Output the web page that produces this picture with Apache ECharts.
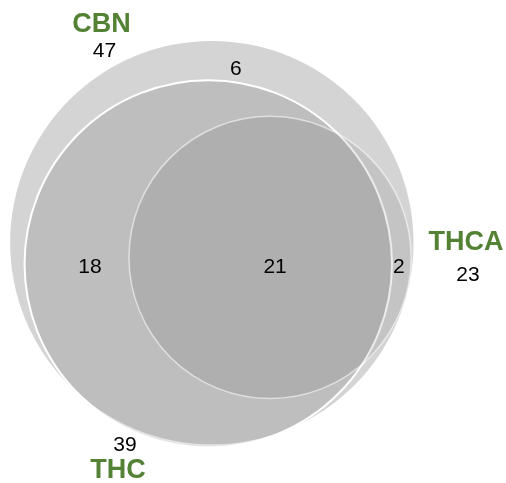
<!DOCTYPE html>
<html>
<head>
<meta charset="utf-8">
<script src="https://cdn.jsdelivr.net/npm/echarts@6/dist/echarts.min.js"></script>
<style>
  html, body { margin: 0; padding: 0; background: #fff; }
  #venn { width: 506px; height: 483px; }
</style>
</head>
<body>
<div id="venn"></div>
<script>
// set totals
const setNames = ["CBN", "THC", "THCA"];
const setSizes = [47, 39, 23];
// counts inside the overlap regions
const regionNames = ["CBN only", "CBN & THC", "CBN & THC & THCA", "CBN & THCA"];
const regionCounts = [6, 18, 21, 2];

// layout in axis units (radius = sqrt(size))
const circleCenters = [[0, 0], [-0.12, -0.72], [1.98, -0.5]];
const setLabelSpots = [[-3.75, 7.39], [-3.19, -7.75], [8.64, 0]];
const totalSpots = [[-3.65, 6.49], [-2.95, -6.87], [8.71, -1.1]];
const regionSpots = [[0.82, 5.9], [-4.14, -0.82], [2.15, -0.82], [6.36, -0.82]];

const circleStyles = [
  { fill: "#d4d4d4", stroke: null, lineWidth: 0 },
  { fill: "rgba(0,0,0,0.1)", stroke: "#ffffff", lineWidth: 2 },
  { fill: "rgba(0,0,0,0.075)", stroke: "rgba(255,255,255,0.55)", lineWidth: 1.5 },
];

let chartDom = document.getElementById("venn");
let myChart = echarts.init(chartDom);

let option = {
  animation: false,
  grid: { left: 0, right: 0, top: 0, bottom: 0 },
  xAxis: { type: "value", min: -7.2, max: 10.0, show: false },
  yAxis: { type: "value", min: -8.16, max: 8.24, show: false },
  series: [
    {
      type: "custom",
      silent: true,
      data: setNames.map((n, i) => [circleCenters[i][0], circleCenters[i][1], Math.sqrt(setSizes[i])]),
      renderItem: function (params, api) {
        const c = api.coord([api.value(0), api.value(1)]);
        const r = api.size([api.value(2), 0])[0];
        const st = circleStyles[params.dataIndex];
        return {
          type: "circle",
          shape: { cx: c[0], cy: c[1], r: r },
          style: { fill: st.fill, stroke: st.stroke, lineWidth: st.lineWidth },
        };
      },
    },
    {
      type: "scatter",
      symbolSize: 0,
      silent: true,
      itemStyle: { opacity: 1 },
      data: setNames.map((n, i) => ({ value: setLabelSpots[i], name: n })),
      label: {
        show: true,
        position: "inside",
        formatter: "{b}",
        color: "#548235",
        opacity: 1,
        fontFamily: "Liberation Sans",
        fontWeight: "bold",
        fontSize: 27,
      },
    },
    {
      type: "scatter",
      symbolSize: 0,
      silent: true,
      itemStyle: { opacity: 1 },
      data: setSizes.map((v, i) => ({ value: totalSpots[i], name: String(v) }))
        .concat(regionCounts.map((v, i) => ({ value: regionSpots[i], name: String(v) }))),
      label: {
        show: true,
        position: "inside",
        formatter: "{b}",
        color: "#000000",
        opacity: 1,
        fontFamily: "Liberation Sans",
        fontSize: 21,
      },
    },
  ],
};
option && myChart.setOption(option);
</script>
</body>
</html>
